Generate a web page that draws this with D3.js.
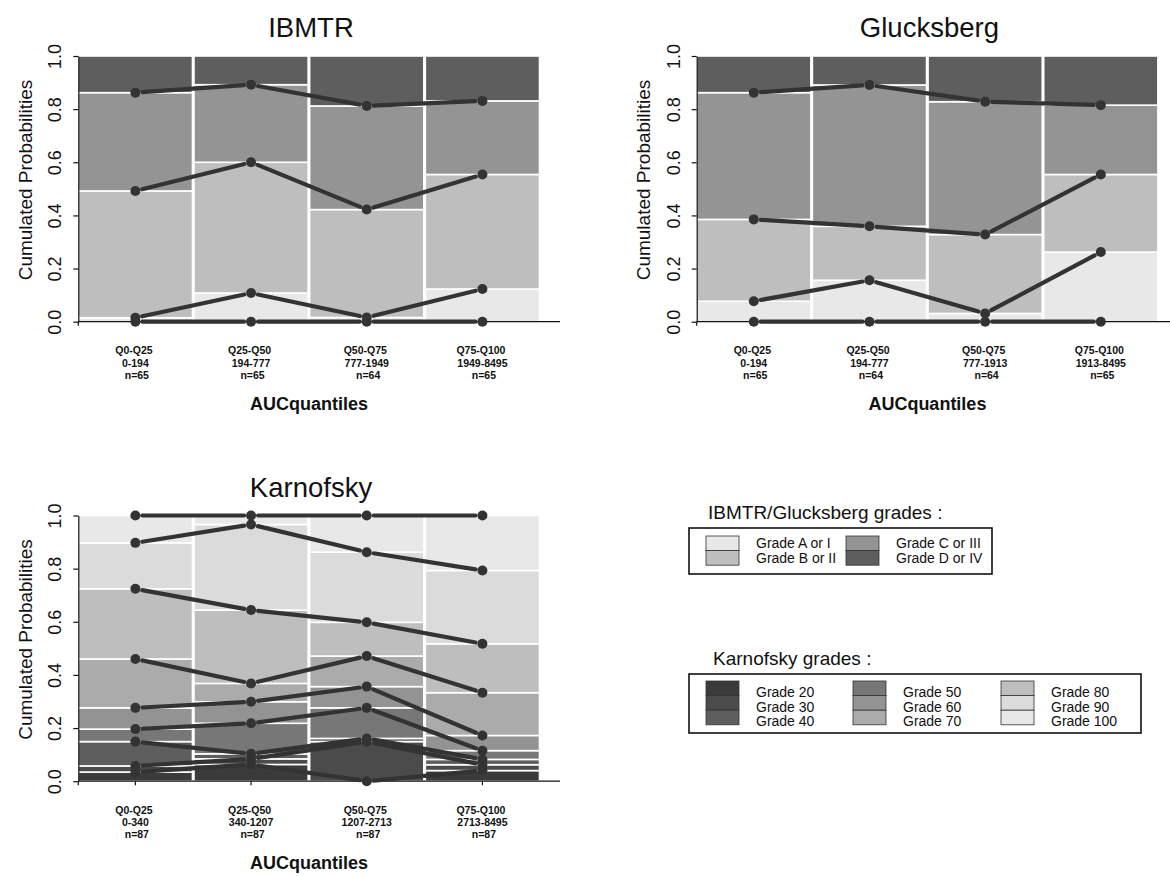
<!DOCTYPE html>
<html>
<head>
<meta charset="utf-8">
<script src="https://cdn.jsdelivr.net/npm/d3@7"></script>
<style>
  body { margin: 0; background: #fff; }
  svg { display: block; font-family: "Liberation Sans", Arial, sans-serif; }
  .xlab { white-space: pre; }
</style>
</head>
<body>
<svg id="chart" width="1170" height="876"></svg>
<script>
// ---- categories and tick labels ----
const quantiles = ["Q0-Q25", "Q25-Q50", "Q50-Q75", "Q75-Q100"];
const ibmtrRanges = ["0-194", "194-777", "777-1949", "1949-8495"];
const ibmtrN = [65, 65, 64, 65];
const glucksbergRanges = ["0-194", "194-777", "777-1913", "1913-8495"];
const glucksbergN = [65, 64, 64, 65];
const karnofskyRanges = ["0-340", "340-1207", "1207-2713", "2713-8495"];
const karnofskyN = [87, 87, 87, 87];
const yTicks = [0, 0.2, 0.4, 0.6, 0.8, 1.0];

// ---- IBMTR: cumulated probabilities (upper bound of each grade) ----
const ibmtrCumA = [0.015, 0.108, 0.016, 0.123];
const ibmtrCumB = [0.492, 0.600, 0.422, 0.554];
const ibmtrCumC = [0.862, 0.892, 0.812, 0.831];
const ibmtrCumD = [1, 1, 1, 1];

// ---- Glucksberg ----
const gluckCumA = [0.077, 0.156, 0.031, 0.262];
const gluckCumB = [0.385, 0.359, 0.328, 0.554];
const gluckCumC = [0.862, 0.891, 0.828, 0.815];
const gluckCumD = [1, 1, 1, 1];

// ---- Karnofsky ----
const karnCum20  = [0.0345, 0.063, 0.000, 0.040];
const karnCum30  = [0.0575, 0.084, 0.149, 0.062];
const karnCum40  = [0.149, 0.103, 0.161, 0.082];
const karnCum50  = [0.196, 0.218, 0.276, 0.115];
const karnCum60  = [0.276, 0.299, 0.356, 0.172];
const karnCum70  = [0.460, 0.368, 0.471, 0.333];
const karnCum80  = [0.724, 0.644, 0.598, 0.517];
const karnCum90  = [0.897, 0.966, 0.862, 0.793];
const karnCum100 = [1, 1, 1, 1];

// ---- grade names and fills ----
const ibmtrGrades = ["Grade A or I", "Grade B or II", "Grade C or III", "Grade D or IV"];
const ibmtrFills = ["#e8e8e8", "#bebebe", "#949494", "#5e5e5e"];
const karnGrades = ["Grade 20", "Grade 30", "Grade 40", "Grade 50", "Grade 60",
                    "Grade 70", "Grade 80", "Grade 90", "Grade 100"];
const karnFills = ["#3b3b3b", "#4b4b4b", "#5e5e5e", "#777777", "#939393",
                   "#ababab", "#bebebe", "#dbdbdb", "#e8e8e8"];

const svg = d3.select("#chart");
const INK = "#333333";

function drawPanel(opts) {
  const g = svg.append("g").attr("transform", `translate(${opts.dx},${opts.dy})`);
  const x = d3.scaleBand().domain(quantiles).range([78.3, 539.5]).paddingInner(0.013);
  const y = d3.scaleLinear().domain([0, 1]).range([321.7, 56]);
  const cx = q => x(q) + x.bandwidth() / 2;

  // stacked bars
  const segs = [];
  quantiles.forEach((q, i) => {
    let lo = 0;
    opts.cums.forEach((arr, k) => {
      segs.push({ q, lo, hi: arr[i], fill: opts.fills[k] });
      lo = arr[i];
    });
  });
  g.append("g").selectAll("rect").data(segs.filter(d => d.hi > d.lo)).join("rect")
    .attr("x", d => x(d.q))
    .attr("width", x.bandwidth())
    .attr("y", d => y(d.hi))
    .attr("height", d => y(d.lo) - y(d.hi))
    .attr("fill", d => d.fill)
    .attr("stroke", "#fff")
    .attr("stroke-width", 1.6);

  // y axis
  const ya = g.append("g").attr("transform", `translate(${x.range()[0]},0)`)
    .call(d3.axisLeft(y).tickValues(yTicks).tickFormat(d3.format(".1f")).tickSize(5).tickSizeOuter(0));
  ya.select(".domain").attr("stroke", "#111").attr("stroke-width", 1.2);
  ya.selectAll(".tick line").attr("stroke", "#111").attr("stroke-width", 1.2);
  ya.selectAll(".tick text")
    .attr("transform", "rotate(-90)")
    .attr("x", 0).attr("y", -17).attr("dy", null)
    .attr("text-anchor", "middle")
    .attr("fill", "#111")
    .style("font-size", "18px")
    .style("font-family", "'Liberation Sans', Arial, sans-serif");

  // x axis
  const xa = g.append("g").attr("transform", `translate(0,${y(0)})`)
    .call(d3.axisBottom(x).tickSize(4).tickSizeOuter(0).tickFormat(""));
  xa.select(".domain").attr("d", `M${x.range()[0]},0H560`).attr("stroke", "#111").attr("stroke-width", 1.2);
  xa.selectAll(".tick line").attr("stroke", "#111").attr("stroke-width", 1.2);
  xa.append("line").attr("x1", x.range()[0]).attr("x2", x.range()[0]).attr("y1", 0).attr("y2", 4)
    .attr("stroke", "#111").attr("stroke-width", 1.2);

  // three-line category labels: quantile, value range, group size
  const labelLines = [
    { dy: 32.6, text: (d, i) => d + " " },
    { dy: 44.8, text: (d, i) => " " + opts.ranges[i] + " " },
    { dy: 57.0, text: (d, i) => " n=" + opts.ns[i] }
  ];
  labelLines.forEach(line => {
    g.append("g").selectAll("text").data(quantiles).join("text")
      .attr("class", "xlab")
      .attr("x", d => cx(d)).attr("y", y(0) + line.dy)
      .attr("text-anchor", "middle")
      .attr("font-size", 10.5).attr("font-weight", "bold").attr("fill", "#111")
      .text(line.text);
  });

  // connecting lines (gapped around each point) and points
  const gap = 7;
  const lineSegs = [];
  const pts = [];
  opts.levels.forEach(arr => {
    quantiles.forEach((q, i) => {
      pts.push({ x: cx(q), y: y(arr[i]) });
      if (i < quantiles.length - 1) {
        const x1 = cx(q), y1 = y(arr[i]);
        const x2 = cx(quantiles[i + 1]), y2 = y(arr[i + 1]);
        const len = Math.hypot(x2 - x1, y2 - y1);
        const ux = (x2 - x1) / len, uy = (y2 - y1) / len;
        lineSegs.push({ x1: x1 + ux * gap, y1: y1 + uy * gap, x2: x2 - ux * gap, y2: y2 - uy * gap });
      }
    });
  });
  g.append("g").selectAll("line").data(lineSegs).join("line")
    .attr("x1", d => d.x1).attr("y1", d => d.y1)
    .attr("x2", d => d.x2).attr("y2", d => d.y2)
    .attr("stroke", INK).attr("stroke-width", 4.2).attr("stroke-linecap", "round");
  g.append("g").selectAll("circle").data(pts).join("circle")
    .attr("cx", d => d.x).attr("cy", d => d.y).attr("r", 5).attr("fill", INK);

  // titles
  g.append("text").attr("x", 311).attr("y", 37.3).attr("text-anchor", "middle")
    .attr("font-size", 27.5).attr("fill", "#111").text(opts.title);
  g.append("text").attr("x", 309).attr("y", y(0) + 88).attr("text-anchor", "middle")
    .attr("font-size", 18).attr("font-weight", "bold").attr("fill", "#111").text("AUCquantiles");
  g.append("text").attr("transform", "translate(32,180) rotate(-90)").attr("text-anchor", "middle")
    .attr("font-size", 19).attr("fill", "#111").text("Cumulated Probabilities");
}

drawPanel({
  dx: 0, dy: 0, title: "IBMTR", ranges: ibmtrRanges, ns: ibmtrN,
  cums: [ibmtrCumA, ibmtrCumB, ibmtrCumC, ibmtrCumD], fills: ibmtrFills,
  levels: [[0, 0, 0, 0], ibmtrCumA, ibmtrCumB, ibmtrCumC]
});
drawPanel({
  dx: 618.4, dy: 0, title: "Glucksberg", ranges: glucksbergRanges, ns: glucksbergN,
  cums: [gluckCumA, gluckCumB, gluckCumC, gluckCumD], fills: ibmtrFills,
  levels: [[0, 0, 0, 0], gluckCumA, gluckCumB, gluckCumC]
});
const karnCums = [karnCum20, karnCum30, karnCum40, karnCum50, karnCum60,
                  karnCum70, karnCum80, karnCum90, karnCum100];
drawPanel({
  dx: 0, dy: 459.5, title: "Karnofsky", ranges: karnofskyRanges, ns: karnofskyN,
  cums: karnCums, fills: karnFills, levels: karnCums
});

// ---- legends ----
function drawLegend(opts) {
  const g = svg.append("g");
  g.append("text").attr("x", opts.titleX).attr("y", opts.titleY)
    .attr("font-size", 19).attr("fill", "#111").text(opts.title);
  g.append("rect").attr("x", opts.box[0]).attr("y", opts.box[1])
    .attr("width", opts.box[2]).attr("height", opts.box[3])
    .attr("fill", "none").attr("stroke", "#111").attr("stroke-width", 1.6);
  const items = opts.names.map((n, i) => ({
    name: n, fill: opts.fills[i],
    col: Math.floor(i / opts.rows), row: i % opts.rows
  }));
  const it = g.selectAll("g.item").data(items).join("g").attr("class", "item")
    .attr("transform", d => `translate(${opts.colX[d.col]},${opts.rowY0 + d.row * 14.6})`);
  it.append("rect").attr("width", 33).attr("height", 14.6)
    .attr("fill", d => d.fill).attr("stroke", "#333").attr("stroke-width", 0.8);
  it.append("text").attr("x", 50).attr("y", 12 + opts.textShift).attr("font-size", 14).attr("fill", "#111")
    .text(d => d.name);
}

drawLegend({
  title: "IBMTR/Glucksberg grades :", titleX: 708, titleY: 519,
  box: [689, 528, 303, 46], names: ibmtrGrades, fills: ibmtrFills,
  rows: 2, colX: [706, 846], rowY0: 536, textShift: 0
});
drawLegend({
  title: "Karnofsky grades :", titleX: 713, titleY: 665,
  box: [689, 674, 452, 59], names: karnGrades, fills: karnFills,
  rows: 3, colX: [706, 853, 1001], rowY0: 681, textShift: 4
});
</script>
</body>
</html>
